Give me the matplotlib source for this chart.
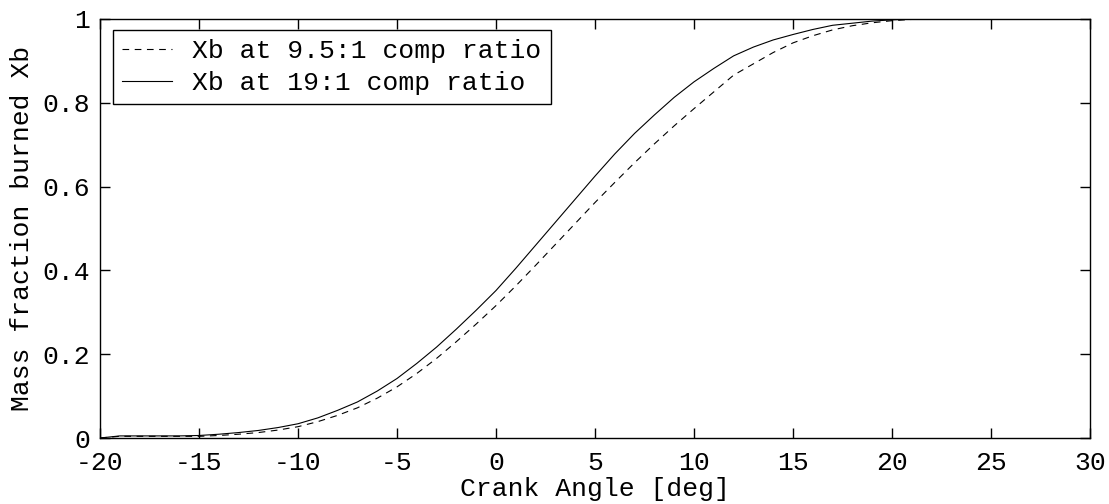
import numpy as np
import matplotlib
matplotlib.use("Agg")
import matplotlib.pyplot as plt

# crank angle [deg]
angle = np.arange(-20, 31)

# mass fraction burned, 9.5:1 compression ratio (dashed)
xb_95 = [0.000, 0.004, 0.004, 0.004, 0.004, 0.004, 0.006, 0.009, 0.013, 0.019,
         0.027, 0.039, 0.054, 0.072, 0.095, 0.122, 0.154, 0.190, 0.230, 0.272,
         0.316, 0.363, 0.412, 0.462, 0.512, 0.562, 0.610, 0.657, 0.702, 0.745,
         0.786, 0.826, 0.866, 0.893, 0.920, 0.943, 0.960, 0.974, 0.984, 0.991,
         0.996, 0.999, 1.000, 1.000, 1.000, 1.000, 1.000, 1.000, 1.000, 1.000,
         1.000]

# mass fraction burned, 19:1 compression ratio (solid)
xb_19 = [0.000, 0.005, 0.005, 0.005, 0.005, 0.006, 0.009, 0.013, 0.018, 0.025,
         0.034, 0.048, 0.066, 0.086, 0.112, 0.142, 0.178, 0.217, 0.260, 0.305,
         0.352, 0.405, 0.460, 0.515, 0.570, 0.625, 0.678, 0.727, 0.771, 0.813,
         0.850, 0.882, 0.912, 0.933, 0.950, 0.963, 0.975, 0.985, 0.990, 0.995,
         0.998, 1.000, 1.000, 1.000, 1.000, 1.000, 1.000, 1.000, 1.000, 1.000,
         1.000]

labels = ["Xb at 9.5:1 comp ratio", "Xb at 19:1 comp ratio"]
xticks = np.arange(-20, 31, 5)
yticks = [0, 0.2, 0.4, 0.6, 0.8, 1]
ytick_labels = ["0", "0.2", "0.4", "0.6", "0.8", "1"]

plt.rcParams['font.family'] = ['Liberation Mono', 'DejaVu Sans Mono']
fs = 19

fig = plt.figure(figsize=(11.09, 5.04), dpi=100, facecolor='white')
ax = fig.add_axes([100 / 1109, 66 / 504, 990 / 1109, 419 / 504])

ax.plot(angle, xb_95, color='black', linewidth=0.8, linestyle=(0, (6, 5)),
        label=labels[0])
ax.plot(angle, xb_19, color='black', linewidth=0.8, label=labels[1])

ax.set_xlim(-20, 30)
ax.set_ylim(0, 1)
ax.set_xticks(xticks)
ax.set_xticklabels([str(t) for t in xticks])
ax.set_yticks(yticks)
ax.set_yticklabels(ytick_labels)

ax.tick_params(direction='in', length=7, width=1.0, top=True, right=True,
               labelsize=fs, color='black')
ax.tick_params(axis='x', pad=9)
ax.tick_params(axis='y', pad=7)
for s in ax.spines.values():
    s.set_linewidth(1.0)
    s.set_color('black')

ax.set_xlabel("Crank Angle [deg]", fontsize=fs, labelpad=2)
ax.set_ylabel("Mass fraction burned Xb", fontsize=fs, labelpad=6)

leg = ax.legend(loc='upper left', bbox_to_anchor=(13 / 990, 1 - 11 / 419),
                borderaxespad=0, fontsize=fs, fancybox=False, framealpha=1,
                edgecolor='black', handlelength=1.9, handletextpad=0.75,
                labelspacing=0.3, borderpad=0.35)
leg.get_frame().set_linewidth(1.0)

fig.savefig("out.png", dpi=100, facecolor='white')
